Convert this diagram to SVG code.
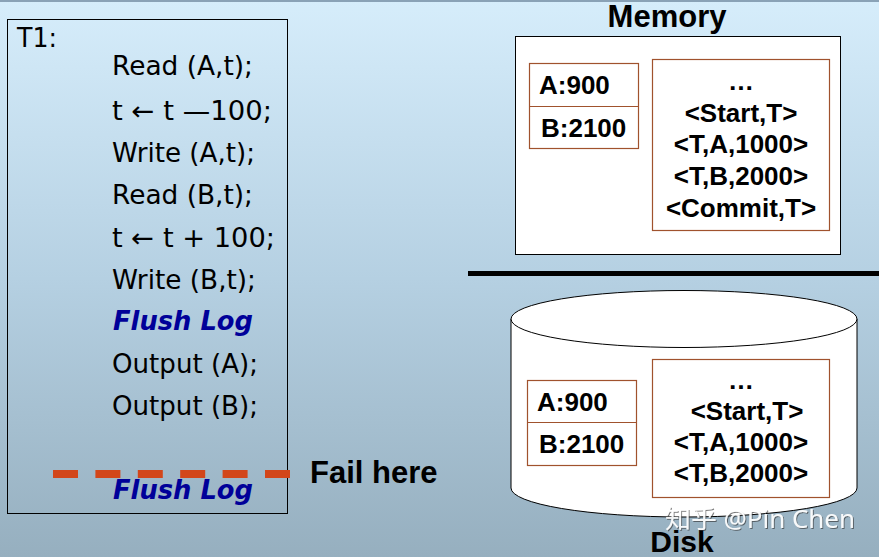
<svg xmlns="http://www.w3.org/2000/svg" width="879" height="557" viewBox="0 0 879 557">
<defs>
<linearGradient id="bg" x1="0" y1="0" x2="0" y2="1">
<stop offset="0" stop-color="#d6edfb"/>
<stop offset="0.5" stop-color="#b5d0e2"/>
<stop offset="1" stop-color="#96afbf"/>
</linearGradient>
<filter id="shadow" x="-5%" y="-20%" width="110%" height="140%">
<feDropShadow dx="1" dy="1" stdDeviation="0.6" flood-color="#333" flood-opacity="0.7"/>
</filter>
<style>
.code{font-family:"DejaVu Sans","Verdana",sans-serif;font-size:26px;fill:#000}
.flush{font-family:"DejaVu Sans",sans-serif;font-size:26px;font-weight:bold;font-style:italic;fill:#000099}
.lbl{font-family:"Liberation Sans",Arial,sans-serif;font-weight:bold;fill:#000}
.cell{font-family:"Liberation Sans",Arial,sans-serif;font-weight:bold;font-size:26px;fill:#000}
.box{fill:none;stroke:#a0522d;stroke-width:1.2}
.log{font-family:"Liberation Sans",Arial,sans-serif;font-weight:bold;font-size:26px;fill:#000;text-anchor:middle}
</style>
</defs>
<rect width="879" height="557" fill="url(#bg)"/>
<rect x="0" y="0" width="879" height="2" fill="#8aa2b6"/>

<g id="transaction">
<rect x="7.5" y="19.5" width="280" height="494" fill="none" stroke="#000" stroke-width="1"/>
<text class="code" x="17" y="47" textLength="40" lengthAdjust="spacingAndGlyphs">T1:</text>
<text class="code" x="112" y="75" textLength="141" lengthAdjust="spacingAndGlyphs">Read (A,t);</text>
<text class="code" x="112" y="120" textLength="160" lengthAdjust="spacingAndGlyphs">t ← t —100;</text>
<text class="code" x="112" y="162" textLength="143" lengthAdjust="spacingAndGlyphs">Write (A,t);</text>
<text class="code" x="112" y="204" textLength="141" lengthAdjust="spacingAndGlyphs">Read (B,t);</text>
<text class="code" x="112" y="247" textLength="163" lengthAdjust="spacingAndGlyphs">t ← t + 100;</text>
<text class="code" x="112" y="289" textLength="144" lengthAdjust="spacingAndGlyphs">Write (B,t);</text>
<text class="flush" x="113" y="330" textLength="140" lengthAdjust="spacingAndGlyphs">Flush Log</text>
<text class="code" x="112" y="373" textLength="146" lengthAdjust="spacingAndGlyphs">Output (A);</text>
<text class="code" x="112" y="415" textLength="146" lengthAdjust="spacingAndGlyphs">Output (B);</text>
<line x1="53" y1="474" x2="291" y2="474" stroke="#d2461a" stroke-width="8" stroke-dasharray="25 17.4"/>
<text class="flush" x="113" y="499" textLength="140" lengthAdjust="spacingAndGlyphs">Flush Log</text>
</g>

<g id="fail-label">
<text class="lbl" x="310" y="483" font-size="31">Fail here</text>
</g>

<g id="memory">
<text class="lbl" x="667" y="27" font-size="31" text-anchor="middle">Memory</text>
<rect x="515.5" y="36.5" width="325" height="218" fill="#fff" stroke="#000" stroke-width="1"/>
<rect class="box" x="529.5" y="63.5" width="109" height="85"/>
<line class="box" x1="529.5" y1="106.5" x2="638.5" y2="106.5"/>
<text class="cell" x="539" y="94">A:900</text>
<text class="cell" x="541" y="137">B:2100</text>
<rect class="box" x="652.5" y="59.5" width="177" height="171"/>
<text class="log" x="741" y="90">…</text>
<text class="log" x="741" y="122">&lt;Start,T&gt;</text>
<text class="log" x="741" y="153">&lt;T,A,1000&gt;</text>
<text class="log" x="741" y="185">&lt;T,B,2000&gt;</text>
<text class="log" x="741" y="217">&lt;Commit,T&gt;</text>
</g>

<g id="separator">
<line x1="468" y1="273.5" x2="879" y2="273.5" stroke="#000" stroke-width="5"/>
</g>

<g id="disk">
<path d="M511 319 L511 488 A173 29 0 0 0 857 488 L857 319" fill="#fff" stroke="#000" stroke-width="1"/>
<ellipse cx="684" cy="319" rx="173" ry="28.5" fill="#fff" stroke="#000" stroke-width="1"/>
<rect class="box" x="527.5" y="380.5" width="109" height="85"/>
<line class="box" x1="527.5" y1="422.5" x2="636.5" y2="422.5"/>
<text class="cell" x="537" y="411">A:900</text>
<text class="cell" x="539" y="453">B:2100</text>
<rect class="box" x="652.5" y="359.5" width="177" height="138"/>
<text class="log" x="741" y="389">…</text>
<text class="log" x="747" y="420">&lt;Start,T&gt;</text>
<text class="log" x="741" y="451">&lt;T,A,1000&gt;</text>
<text class="log" x="741" y="482">&lt;T,B,2000&gt;</text>
<text class="lbl" x="682" y="552" font-size="30" text-anchor="middle">Disk</text>
</g>

<g id="watermark">
<text x="665" y="528" font-family="'Noto Sans','Noto Sans CJK SC',sans-serif" font-size="25" fill="#fff" opacity="0.92" filter="url(#shadow)" textLength="190" lengthAdjust="spacingAndGlyphs">知乎 @Pin Chen</text>
</g>
</svg>
